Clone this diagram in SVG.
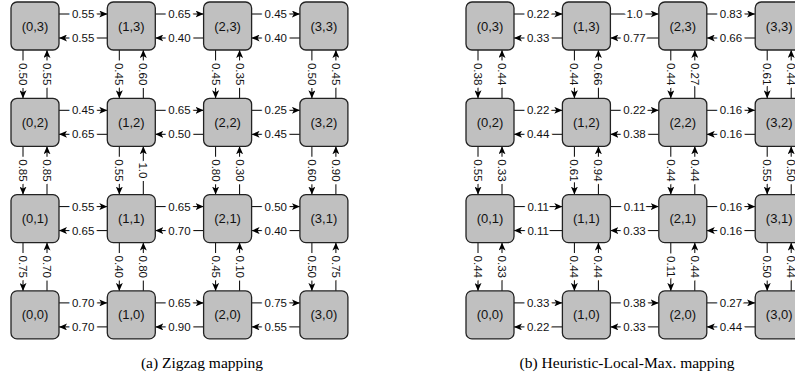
<svg xmlns="http://www.w3.org/2000/svg" xmlns:xlink="http://www.w3.org/1999/xlink" width="795" height="381" viewBox="0 0 795 381">
<style>
.n rect{fill:#c0c0c0;stroke:#222;stroke-width:1.3}
.n text{font-family:"Liberation Sans",Arial,sans-serif;font-size:13px;fill:#111;text-anchor:middle;dominant-baseline:central}
.l{font-family:"Liberation Sans",Arial,sans-serif;font-size:11.5px;fill:#111;text-anchor:middle;dominant-baseline:central;stroke:#fff;stroke-width:6;stroke-linejoin:round;paint-order:stroke}
.cap{font-family:"Liberation Serif","Times New Roman",serif;font-size:15.5px;fill:#000;text-anchor:middle}
</style>
<defs>
<marker id="ah" markerWidth="8" markerHeight="7" refX="8" refY="3.5" orient="auto" markerUnits="userSpaceOnUse"><path d="M0,0 L8,3.5 L0,7 L2,3.5 z" fill="#000"/></marker>
<g id="hp"><line x1="0" y1="12" x2="48.3" y2="12" stroke="#000" stroke-width="1" marker-end="url(#ah)"/><line x1="48.3" y1="36" x2="0" y2="36" stroke="#000" stroke-width="1" marker-end="url(#ah)"/></g>
<g id="vp"><line x1="12" y1="0" x2="12" y2="48.3" stroke="#000" stroke-width="1" marker-end="url(#ah)"/><line x1="36" y1="48.3" x2="36" y2="0" stroke="#000" stroke-width="1" marker-end="url(#ah)"/></g>
</defs>

<g id="connectors">
<!-- left grid horizontal -->
<use xlink:href="#hp" x="59" y="2"/><use xlink:href="#hp" x="155.3" y="2"/><use xlink:href="#hp" x="251.6" y="2"/>
<use xlink:href="#hp" x="59" y="98.3"/><use xlink:href="#hp" x="155.3" y="98.3"/><use xlink:href="#hp" x="251.6" y="98.3"/>
<use xlink:href="#hp" x="59" y="194.6"/><use xlink:href="#hp" x="155.3" y="194.6"/><use xlink:href="#hp" x="251.6" y="194.6"/>
<use xlink:href="#hp" x="59" y="290.9"/><use xlink:href="#hp" x="155.3" y="290.9"/><use xlink:href="#hp" x="251.6" y="290.9"/>
<!-- left grid vertical -->
<use xlink:href="#vp" x="11" y="50"/><use xlink:href="#vp" x="11" y="146.3"/><use xlink:href="#vp" x="11" y="242.6"/>
<use xlink:href="#vp" x="107.3" y="50"/><use xlink:href="#vp" x="107.3" y="146.3"/><use xlink:href="#vp" x="107.3" y="242.6"/>
<use xlink:href="#vp" x="203.6" y="50"/><use xlink:href="#vp" x="203.6" y="146.3"/><use xlink:href="#vp" x="203.6" y="242.6"/>
<use xlink:href="#vp" x="299.9" y="50"/><use xlink:href="#vp" x="299.9" y="146.3"/><use xlink:href="#vp" x="299.9" y="242.6"/>
<!-- right grid horizontal -->
<use xlink:href="#hp" x="514" y="2"/><use xlink:href="#hp" x="610.4" y="2"/><use xlink:href="#hp" x="706.8" y="2"/>
<use xlink:href="#hp" x="514" y="98.3"/><use xlink:href="#hp" x="610.4" y="98.3"/><use xlink:href="#hp" x="706.8" y="98.3"/>
<use xlink:href="#hp" x="514" y="194.6"/><use xlink:href="#hp" x="610.4" y="194.6"/><use xlink:href="#hp" x="706.8" y="194.6"/>
<use xlink:href="#hp" x="514" y="290.9"/><use xlink:href="#hp" x="610.4" y="290.9"/><use xlink:href="#hp" x="706.8" y="290.9"/>
<!-- right grid vertical -->
<use xlink:href="#vp" x="466" y="50"/><use xlink:href="#vp" x="466" y="146.3"/><use xlink:href="#vp" x="466" y="242.6"/>
<use xlink:href="#vp" x="562.4" y="50"/><use xlink:href="#vp" x="562.4" y="146.3"/><use xlink:href="#vp" x="562.4" y="242.6"/>
<use xlink:href="#vp" x="658.8" y="50"/><use xlink:href="#vp" x="658.8" y="146.3"/><use xlink:href="#vp" x="658.8" y="242.6"/>
<use xlink:href="#vp" x="755.2" y="50"/><use xlink:href="#vp" x="755.2" y="146.3"/><use xlink:href="#vp" x="755.2" y="242.6"/>

<!-- left horizontal labels -->
<text class="l" x="83.15" y="14">0.55</text><text class="l" x="83.15" y="38">0.55</text>
<text class="l" x="179.45" y="14">0.65</text><text class="l" x="179.45" y="38">0.40</text>
<text class="l" x="275.75" y="14">0.45</text><text class="l" x="275.75" y="38">0.40</text>
<text class="l" x="83.15" y="110.3">0.45</text><text class="l" x="83.15" y="134.3">0.65</text>
<text class="l" x="179.45" y="110.3">0.65</text><text class="l" x="179.45" y="134.3">0.50</text>
<text class="l" x="275.75" y="110.3">0.25</text><text class="l" x="275.75" y="134.3">0.45</text>
<text class="l" x="83.15" y="206.6">0.55</text><text class="l" x="83.15" y="230.6">0.65</text>
<text class="l" x="179.45" y="206.6">0.65</text><text class="l" x="179.45" y="230.6">0.70</text>
<text class="l" x="275.75" y="206.6">0.50</text><text class="l" x="275.75" y="230.6">0.40</text>
<text class="l" x="83.15" y="302.9">0.70</text><text class="l" x="83.15" y="326.9">0.70</text>
<text class="l" x="179.45" y="302.9">0.65</text><text class="l" x="179.45" y="326.9">0.90</text>
<text class="l" x="275.75" y="302.9">0.75</text><text class="l" x="275.75" y="326.9">0.55</text>
<!-- left vertical labels -->
<text class="l" transform="translate(23,74.15) rotate(90)">0.50</text><text class="l" transform="translate(47,74.15) rotate(90)">0.55</text>
<text class="l" transform="translate(23,170.45) rotate(90)">0.85</text><text class="l" transform="translate(47,170.45) rotate(90)">0.85</text>
<text class="l" transform="translate(23,266.75) rotate(90)">0.75</text><text class="l" transform="translate(47,266.75) rotate(90)">0.70</text>
<text class="l" transform="translate(119.3,74.15) rotate(90)">0.45</text><text class="l" transform="translate(143.3,74.15) rotate(90)">0.60</text>
<text class="l" transform="translate(119.3,170.45) rotate(90)">0.55</text><text class="l" transform="translate(143.3,170.45) rotate(90)">1.0</text>
<text class="l" transform="translate(119.3,266.75) rotate(90)">0.40</text><text class="l" transform="translate(143.3,266.75) rotate(90)">0.80</text>
<text class="l" transform="translate(215.6,74.15) rotate(90)">0.45</text><text class="l" transform="translate(239.6,74.15) rotate(90)">0.35</text>
<text class="l" transform="translate(215.6,170.45) rotate(90)">0.80</text><text class="l" transform="translate(239.6,170.45) rotate(90)">0.30</text>
<text class="l" transform="translate(215.6,266.75) rotate(90)">0.45</text><text class="l" transform="translate(239.6,266.75) rotate(90)">0.10</text>
<text class="l" transform="translate(311.9,74.15) rotate(90)">0.50</text><text class="l" transform="translate(335.9,74.15) rotate(90)">0.45</text>
<text class="l" transform="translate(311.9,170.45) rotate(90)">0.60</text><text class="l" transform="translate(335.9,170.45) rotate(90)">0.90</text>
<text class="l" transform="translate(311.9,266.75) rotate(90)">0.50</text><text class="l" transform="translate(335.9,266.75) rotate(90)">0.75</text>

<!-- right horizontal labels -->
<text class="l" x="538.15" y="14">0.22</text><text class="l" x="538.15" y="38">0.33</text>
<text class="l" x="634.55" y="14">1.0</text><text class="l" x="634.55" y="38">0.77</text>
<text class="l" x="730.95" y="14">0.83</text><text class="l" x="730.95" y="38">0.66</text>
<text class="l" x="538.15" y="110.3">0.22</text><text class="l" x="538.15" y="134.3">0.44</text>
<text class="l" x="634.55" y="110.3">0.22</text><text class="l" x="634.55" y="134.3">0.38</text>
<text class="l" x="730.95" y="110.3">0.16</text><text class="l" x="730.95" y="134.3">0.16</text>
<text class="l" x="538.15" y="206.6">0.11</text><text class="l" x="538.15" y="230.6">0.11</text>
<text class="l" x="634.55" y="206.6">0.11</text><text class="l" x="634.55" y="230.6">0.33</text>
<text class="l" x="730.95" y="206.6">0.16</text><text class="l" x="730.95" y="230.6">0.16</text>
<text class="l" x="538.15" y="302.9">0.33</text><text class="l" x="538.15" y="326.9">0.22</text>
<text class="l" x="634.55" y="302.9">0.38</text><text class="l" x="634.55" y="326.9">0.33</text>
<text class="l" x="730.95" y="302.9">0.27</text><text class="l" x="730.95" y="326.9">0.44</text>
<!-- right vertical labels -->
<text class="l" transform="translate(478,74.15) rotate(90)">0.38</text><text class="l" transform="translate(502,74.15) rotate(90)">0.44</text>
<text class="l" transform="translate(478,170.45) rotate(90)">0.55</text><text class="l" transform="translate(502,170.45) rotate(90)">0.33</text>
<text class="l" transform="translate(478,266.75) rotate(90)">0.44</text><text class="l" transform="translate(502,266.75) rotate(90)">0.33</text>
<text class="l" transform="translate(574.4,74.15) rotate(90)">0.44</text><text class="l" transform="translate(598.4,74.15) rotate(90)">0.66</text>
<text class="l" transform="translate(574.4,170.45) rotate(90)">0.61</text><text class="l" transform="translate(598.4,170.45) rotate(90)">0.94</text>
<text class="l" transform="translate(574.4,266.75) rotate(90)">0.44</text><text class="l" transform="translate(598.4,266.75) rotate(90)">0.44</text>
<text class="l" transform="translate(670.8,74.15) rotate(90)">0.44</text><text class="l" transform="translate(694.8,74.15) rotate(90)">0.27</text>
<text class="l" transform="translate(670.8,170.45) rotate(90)">0.44</text><text class="l" transform="translate(694.8,170.45) rotate(90)">0.44</text>
<text class="l" transform="translate(670.8,266.75) rotate(90)">0.11</text><text class="l" transform="translate(694.8,266.75) rotate(90)">0.44</text>
<text class="l" transform="translate(767.2,74.15) rotate(90)">0.61</text><text class="l" transform="translate(791.2,74.15) rotate(90)">0.44</text>
<text class="l" transform="translate(767.2,170.45) rotate(90)">0.55</text><text class="l" transform="translate(791.2,170.45) rotate(90)">0.50</text>
<text class="l" transform="translate(767.2,266.75) rotate(90)">0.50</text><text class="l" transform="translate(791.2,266.75) rotate(90)">0.44</text>
</g>

<!-- left grid nodes -->
<g id="a03" class="n"><rect x="11" y="2" width="48" height="48" rx="6"/><text x="35" y="26">(0,3)</text></g>
<g id="a13" class="n"><rect x="107.3" y="2" width="48" height="48" rx="6"/><text x="131.3" y="26">(1,3)</text></g>
<g id="a23" class="n"><rect x="203.6" y="2" width="48" height="48" rx="6"/><text x="227.6" y="26">(2,3)</text></g>
<g id="a33" class="n"><rect x="299.9" y="2" width="48" height="48" rx="6"/><text x="323.9" y="26">(3,3)</text></g>
<g id="a02" class="n"><rect x="11" y="98.3" width="48" height="48" rx="6"/><text x="35" y="122.3">(0,2)</text></g>
<g id="a12" class="n"><rect x="107.3" y="98.3" width="48" height="48" rx="6"/><text x="131.3" y="122.3">(1,2)</text></g>
<g id="a22" class="n"><rect x="203.6" y="98.3" width="48" height="48" rx="6"/><text x="227.6" y="122.3">(2,2)</text></g>
<g id="a32" class="n"><rect x="299.9" y="98.3" width="48" height="48" rx="6"/><text x="323.9" y="122.3">(3,2)</text></g>
<g id="a01" class="n"><rect x="11" y="194.6" width="48" height="48" rx="6"/><text x="35" y="218.6">(0,1)</text></g>
<g id="a11" class="n"><rect x="107.3" y="194.6" width="48" height="48" rx="6"/><text x="131.3" y="218.6">(1,1)</text></g>
<g id="a21" class="n"><rect x="203.6" y="194.6" width="48" height="48" rx="6"/><text x="227.6" y="218.6">(2,1)</text></g>
<g id="a31" class="n"><rect x="299.9" y="194.6" width="48" height="48" rx="6"/><text x="323.9" y="218.6">(3,1)</text></g>
<g id="a00" class="n"><rect x="11" y="290.9" width="48" height="48" rx="6"/><text x="35" y="314.9">(0,0)</text></g>
<g id="a10" class="n"><rect x="107.3" y="290.9" width="48" height="48" rx="6"/><text x="131.3" y="314.9">(1,0)</text></g>
<g id="a20" class="n"><rect x="203.6" y="290.9" width="48" height="48" rx="6"/><text x="227.6" y="314.9">(2,0)</text></g>
<g id="a30" class="n"><rect x="299.9" y="290.9" width="48" height="48" rx="6"/><text x="323.9" y="314.9">(3,0)</text></g>

<!-- right grid nodes -->
<g id="b03" class="n"><rect x="466" y="2" width="48" height="48" rx="6"/><text x="490" y="26">(0,3)</text></g>
<g id="b13" class="n"><rect x="562.4" y="2" width="48" height="48" rx="6"/><text x="586.4" y="26">(1,3)</text></g>
<g id="b23" class="n"><rect x="658.8" y="2" width="48" height="48" rx="6"/><text x="682.8" y="26">(2,3)</text></g>
<g id="b33" class="n"><rect x="755.2" y="2" width="48" height="48" rx="6"/><text x="779.2" y="26">(3,3)</text></g>
<g id="b02" class="n"><rect x="466" y="98.3" width="48" height="48" rx="6"/><text x="490" y="122.3">(0,2)</text></g>
<g id="b12" class="n"><rect x="562.4" y="98.3" width="48" height="48" rx="6"/><text x="586.4" y="122.3">(1,2)</text></g>
<g id="b22" class="n"><rect x="658.8" y="98.3" width="48" height="48" rx="6"/><text x="682.8" y="122.3">(2,2)</text></g>
<g id="b32" class="n"><rect x="755.2" y="98.3" width="48" height="48" rx="6"/><text x="779.2" y="122.3">(3,2)</text></g>
<g id="b01" class="n"><rect x="466" y="194.6" width="48" height="48" rx="6"/><text x="490" y="218.6">(0,1)</text></g>
<g id="b11" class="n"><rect x="562.4" y="194.6" width="48" height="48" rx="6"/><text x="586.4" y="218.6">(1,1)</text></g>
<g id="b21" class="n"><rect x="658.8" y="194.6" width="48" height="48" rx="6"/><text x="682.8" y="218.6">(2,1)</text></g>
<g id="b31" class="n"><rect x="755.2" y="194.6" width="48" height="48" rx="6"/><text x="779.2" y="218.6">(3,1)</text></g>
<g id="b00" class="n"><rect x="466" y="290.9" width="48" height="48" rx="6"/><text x="490" y="314.9">(0,0)</text></g>
<g id="b10" class="n"><rect x="562.4" y="290.9" width="48" height="48" rx="6"/><text x="586.4" y="314.9">(1,0)</text></g>
<g id="b20" class="n"><rect x="658.8" y="290.9" width="48" height="48" rx="6"/><text x="682.8" y="314.9">(2,0)</text></g>
<g id="b30" class="n"><rect x="755.2" y="290.9" width="48" height="48" rx="6"/><text x="779.2" y="314.9">(3,0)</text></g>

<g id="captions">
<text class="cap" x="202" y="368">(a) Zigzag mapping</text>
<text class="cap" x="627" y="368">(b) Heuristic-Local-Max. mapping</text>
</g>
</svg>
